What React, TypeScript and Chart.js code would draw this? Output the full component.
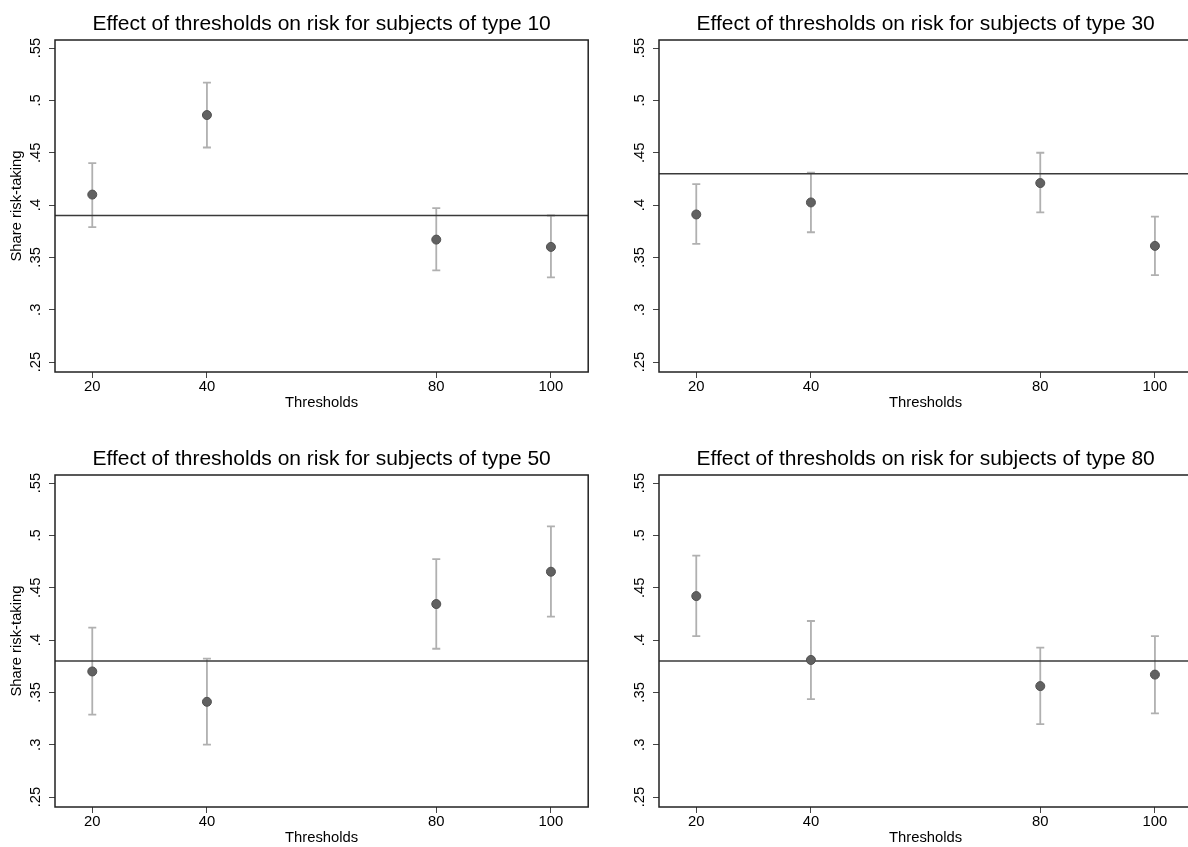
import React, { useEffect, useRef } from "react";
import { Chart, registerables } from "chart.js";

Chart.register(...registerables);
Chart.defaults.font.family = '"Liberation Sans", Arial, Helvetica, sans-serif';

// ---------- data ----------
const thresholds = [20, 40, 80, 100];
const xTickValues = [20, 40, 80, 100];
const yTickValues = [0.25, 0.3, 0.35, 0.4, 0.45, 0.5, 0.55];

const type10Mean = [0.41, 0.486, 0.367, 0.36];
const type10Lower = [0.379, 0.455, 0.3375, 0.331];
const type10Upper = [0.44, 0.517, 0.397, 0.39];
const type10Baseline = 0.39;

const type30Mean = [0.391, 0.4025, 0.421, 0.361];
const type30Lower = [0.363, 0.374, 0.393, 0.333];
const type30Upper = [0.42, 0.431, 0.45, 0.389];
const type30Baseline = 0.43;

const type50Mean = [0.37, 0.341, 0.4344, 0.4653];
const type50Lower = [0.3287, 0.3, 0.3917, 0.4223];
const type50Upper = [0.4118, 0.3822, 0.4774, 0.5086];
const type50Baseline = 0.38;

const type80Mean = [0.442, 0.381, 0.356, 0.367];
const type80Lower = [0.4038, 0.3436, 0.3197, 0.33];
const type80Upper = [0.4806, 0.4182, 0.3927, 0.4038];
const type80Baseline = 0.38;

const X_MIN = 13.5;
const X_MAX = 106.5;
const Y_MIN = 0.2405;
const Y_MAX = 0.5577;

const TICK_FONT = 14.8;

function fmtY(v: number): string {
  const s = String(Math.round(v * 100) / 100);
  return s.startsWith("0") ? s.slice(1) : s;
}

const frameTitlePlugin = {
  id: "frameTitle",
  afterDraw(chart: any, _args: any, opts: any) {
    const { ctx, chartArea } = chart;
    const { left, top, right, bottom } = chartArea;
    ctx.save();
    ctx.strokeStyle = "#222";
    ctx.lineWidth = 1.5;
    ctx.strokeRect(left, top, right - left, bottom - top);
    ctx.fillStyle = "#000";
    ctx.font = '21px "Liberation Sans", Arial, sans-serif';
    ctx.textAlign = "center";
    ctx.textBaseline = "alphabetic";
    ctx.fillText(opts.text || "", (left + right) / 2, top - 10);
    ctx.restore();
  },
};

type PanelProps = {
  typeLabel: number;
  mean: number[];
  lower: number[];
  upper: number[];
  baseline: number;
  showYTitle: boolean;
  left: number;
  top: number;
};

function Panel({ typeLabel, mean, lower, upper, baseline, showYTitle, left, top }: PanelProps) {
  const ref = useRef<HTMLCanvasElement | null>(null);

  useEffect(() => {
    if (!ref.current) return;
    const errData: any[] = [];
    thresholds.forEach((x, i) => {
      errData.push({ x, y: lower[i] }, { x, y: upper[i] }, { x, y: null });
    });
    const chart = new Chart(ref.current, {
      type: "scatter",
      data: {
        datasets: [
          {
            label: "mean",
            data: thresholds.map((x, i) => ({ x, y: mean[i] })),
            pointRadius: 4.5,
            pointBackgroundColor: "#616161",
            pointBorderColor: "#505050",
            pointBorderWidth: 1,
            showLine: false,
            order: 0,
          } as any,
          {
            label: "baseline",
            data: [
              { x: X_MIN, y: baseline },
              { x: X_MAX, y: baseline },
            ],
            showLine: true,
            borderColor: "#3a3a3a",
            borderWidth: 1.5,
            pointRadius: 0,
            order: 1,
          } as any,
          {
            label: "ci",
            data: errData,
            showLine: true,
            spanGaps: false,
            borderColor: "#b0b0b0",
            borderWidth: 1.8,
            pointStyle: "line",
            pointRadius: 4,
            pointBorderColor: "#b0b0b0",
            pointBorderWidth: 1.8,
            order: 2,
          } as any,
        ],
      },
      options: {
        animation: false,
        responsive: false,
        events: [],
        layout: { padding: { top: 40, right: 4, left: 0, bottom: 0 } },
        plugins: {
          legend: { display: false },
          tooltip: { enabled: false },
          frameTitle: { text: `Effect of thresholds on risk for subjects of type ${typeLabel}` },
        } as any,
        scales: {
          x: {
            type: "linear",
            min: X_MIN,
            max: X_MAX,
            afterBuildTicks: (s: any) => {
              s.ticks = xTickValues.map((v) => ({ value: v }));
            },
            afterFit: (s: any) => {
              s.height = 48;
            },
            ticks: {
              padding: 0,
              color: "#000",
              autoSkip: false,
              maxRotation: 0,
              font: { size: TICK_FONT },
              callback: (v: any) => String(v),
            },
            grid: { drawOnChartArea: false, drawTicks: true, tickLength: 6, color: "#444" },
            border: { display: false },
            title: {
              display: true,
              text: "Thresholds",
              color: "#000",
              font: { size: TICK_FONT },
              padding: { top: 0, bottom: 8 },
            },
          },
          y: {
            type: "linear",
            min: Y_MIN,
            max: Y_MAX,
            afterBuildTicks: (s: any) => {
              s.ticks = yTickValues.map((v) => ({ value: v }));
            },
            afterFit: (s: any) => {
              s.width = 55;
            },
            ticks: {
              minRotation: 90,
              maxRotation: 90,
              crossAlign: "center",
              padding: 3,
              autoSkip: false,
              color: "#000",
              font: { size: TICK_FONT },
              callback: (v: any) => fmtY(Number(v)),
            },
            grid: { drawOnChartArea: false, drawTicks: true, tickLength: 6, color: "#444" },
            border: { display: false },
            title: {
              display: showYTitle,
              text: "Share risk-taking",
              color: "#000",
              font: { size: TICK_FONT },
              padding: { top: 8, bottom: 0 },
            },
          },
        },
      } as any,
      plugins: [frameTitlePlugin as any],
    });
    return () => chart.destroy();
  }, []);

  return (
    <canvas
      ref={ref}
      width={594}
      height={420}
      style={{ position: "absolute", left, top, width: 594, height: 420 }}
    />
  );
}

export default function App() {
  return (
    <div
      style={{
        position: "absolute",
        left: 0,
        top: 0,
        width: 1188,
        height: 847,
        overflow: "hidden",
        background: "#fff",
      }}
    >
      <Panel typeLabel={10} mean={type10Mean} lower={type10Lower} upper={type10Upper} baseline={type10Baseline} showYTitle={true} left={0} top={0} />
      <Panel typeLabel={30} mean={type30Mean} lower={type30Lower} upper={type30Upper} baseline={type30Baseline} showYTitle={false} left={604} top={0} />
      <Panel typeLabel={50} mean={type50Mean} lower={type50Lower} upper={type50Upper} baseline={type50Baseline} showYTitle={true} left={0} top={435} />
      <Panel typeLabel={80} mean={type80Mean} lower={type80Lower} upper={type80Upper} baseline={type80Baseline} showYTitle={false} left={604} top={435} />
    </div>
  );
}
